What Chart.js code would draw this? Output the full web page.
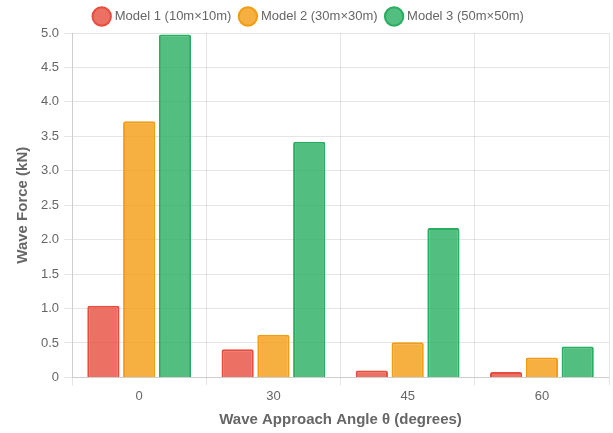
<!DOCTYPE html>
<html>
<head>
<meta charset="utf-8">
<script src="https://cdn.jsdelivr.net/npm/chart.js@4"></script>
<style>
  html, body { margin: 0; padding: 0; background: #fff; }
  #wrap { width: 613px; height: 433px; }
</style>
</head>
<body>
<div id="wrap"><canvas id="myChart"></canvas></div>
<script>
var angles = ['0', '30', '45', '60'];
var model1 = [1.04, 0.41, 0.10, 0.08];
var model2 = [3.72, 0.62, 0.51, 0.29];
var model3 = [4.98, 3.42, 2.17, 0.45];

Chart.defaults.font.family = "'Liberation Sans', Arial, sans-serif";

var ctx = document.getElementById('myChart').getContext('2d');
var chart = new Chart(ctx, {
    type: 'bar',
    data: {
        labels: angles,
        datasets: [{
            label: 'Model 1 (10m×10m)',
            data: model1,
            backgroundColor: 'rgba(231, 76, 60, 0.8)',
            borderColor: '#e74c3c',
            borderWidth: 2,
            borderRadius: 2
        }, {
            label: 'Model 2 (30m×30m)',
            data: model2,
            backgroundColor: 'rgba(243, 156, 18, 0.8)',
            borderColor: '#f39c12',
            borderWidth: 2,
            borderRadius: 2
        }, {
            label: 'Model 3 (50m×50m)',
            data: model3,
            backgroundColor: 'rgba(39, 174, 96, 0.8)',
            borderColor: '#27ae60',
            borderWidth: 2,
            borderRadius: 2
        }]
    },
    options: {
        responsive: true,
        maintainAspectRatio: false,
        animation: false,
        layout: { padding: { left: 10, right: 4 } },
        plugins: {
            legend: {
                position: 'top',
                labels: {
                    usePointStyle: true,
                    pointStyle: 'circle',
                    color: '#666',
                    font: { size: 13 },
                    padding: 10
                }
            }
        },
        scales: {
            x: {
                title: {
                    display: true,
                    text: 'Wave Approach Angle θ (degrees)',
                    color: '#666',
                    font: { size: 15, weight: 'bold' }
                },
                ticks: { color: '#666', font: { size: 13 } }
            },
            y: {
                min: 0,
                max: 5,
                ticks: {
                    stepSize: 0.5,
                    padding: 5,
                    color: '#666',
                    font: { size: 13 },
                    callback: function (v) { return v === 0 ? '0' : v.toFixed(1); }
                },
                title: {
                    display: true,
                    text: 'Wave Force (kN)',
                    color: '#666',
                    font: { size: 15, weight: 'bold' }
                }
            }
        }
    }
});
</script>
</body>
</html>
